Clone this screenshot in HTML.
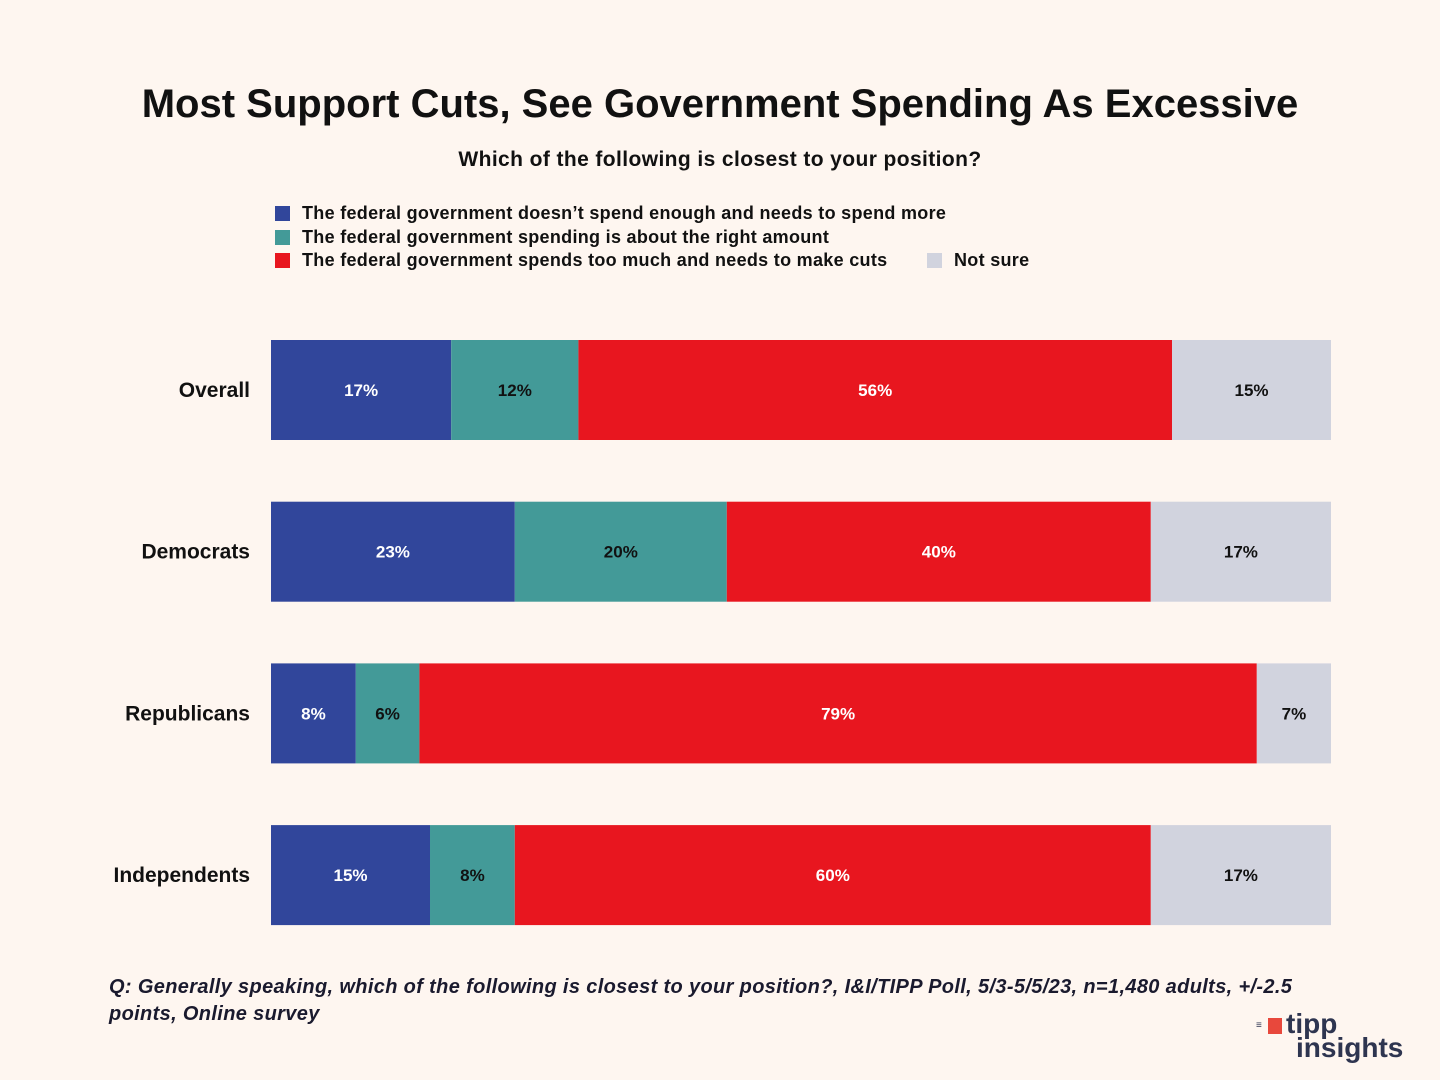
<!DOCTYPE html>
<html><head><meta charset="utf-8"><style>
body{margin:0;width:1440px;height:1080px;background:#fef6f0;font-family:"Liberation Sans",sans-serif;position:relative;overflow:hidden}
.t{position:absolute;white-space:nowrap}
</style></head><body>
<div class="t" style="left:0;width:1440px;text-align:center;top:82px;font-size:40px;font-weight:bold;color:#111">Most Support Cuts, See Government Spending As Excessive</div>
<div class="t" style="left:0;width:1440px;text-align:center;top:148px;font-size:21px;font-weight:bold;color:#111;letter-spacing:0.4px">Which of the following is closest to your position?</div>
<div id="legend"></div>
<svg id="chart" width="1440" height="1080" style="position:absolute;left:0;top:0"></svg>
<div class="t" style="left:109px;top:974px;font-size:20px;font-style:italic;font-weight:bold;color:#1a1a2e;line-height:27px;letter-spacing:0.35px">Q: Generally speaking, which of the following is closest to your position?, I&amp;I/TIPP Poll, 5/3-5/5/23, n=1,480 adults, +/-2.5<br>points, Online survey</div>
<div style="position:absolute;left:1256px;top:1012px;width:150px;height:55px">
<div style="position:absolute;left:12px;top:6px;width:14px;height:16px;background:#e8483c"></div>
<div style="position:absolute;left:0;top:8px;font-size:10px;color:#2e3550">≡</div>
<div class="t" style="left:30px;top:-4px;font-size:28px;font-weight:bold;color:#2e3550">tipp</div>
<div class="t" style="left:40px;top:20px;font-size:28px;font-weight:bold;color:#2e3550">insights</div>
</div>
<script>
const categories=["Overall","Democrats","Republicans","Independents"];
const spendMore=[17,23,8,15];
const rightAmount=[12,20,6,8];
const tooMuch=[56,40,79,60];
const notSure=[15,17,7,17];
const seriesNames=["The federal government doesn’t spend enough and needs to spend more","The federal government spending is about the right amount","The federal government spends too much and needs to make cuts","Not sure"];
const colors=["#31469b","#439a98","#e8161f","#d1d3de"];
const textColors=["#fff","#111","#fff","#111"];
const series=[spendMore,rightAmount,tooMuch,notSure];
const X0=271,W=1060,BH=100;
function xs(v){return v/100*W;}
function yc(i){return 340+i*161.7;}
const svg=document.getElementById('chart');
const NS="http://www.w3.org/2000/svg";
categories.forEach((c,i)=>{
  const y=yc(i);
  const lab=document.createElementNS(NS,'text');
  
  
  lab.setAttribute('x',250);lab.setAttribute('y',y+BH/2+7);lab.setAttribute('text-anchor','end');
  lab.setAttribute('font-size','21');lab.setAttribute('font-weight','bold');lab.setAttribute('fill','#111');
  lab.textContent=c;svg.appendChild(lab);
  let acc=0;
  series.forEach((s,k)=>{
    const v=s[i];const x=X0+xs(acc);const w=xs(v);
    const r=document.createElementNS(NS,'rect');
    
    
    r.setAttribute('x',x);r.setAttribute('y',y);r.setAttribute('width',w);r.setAttribute('height',BH);r.setAttribute('fill',colors[k]);
    svg.appendChild(r);
    const t=document.createElementNS(NS,'text');
    
    
    t.setAttribute('x',x+w/2);t.setAttribute('y',y+BH/2+6);t.setAttribute('text-anchor','middle');
    t.setAttribute('font-size','17');t.setAttribute('font-weight','bold');t.setAttribute('fill',textColors[k]);
    t.textContent=v+'%';svg.appendChild(t);
    acc+=v;
  });
});
const lg=document.getElementById('legend');
const lpos=[[275,203],[275,227],[275,250],[907,250]];
seriesNames.forEach((n,k)=>{
  const d=document.createElement('div');
  
  
  d.className='t';d.style.left=(k===3?lpos[k][0]+20:lpos[k][0])+'px';d.style.top=lpos[k][1]+'px';
  d.style.fontSize='18px';d.style.fontWeight='bold';d.style.color='#111';d.style.letterSpacing='0.3px';
  d.innerHTML='<span style="display:inline-block;width:15px;height:15px;background:'+colors[k]+';margin-right:12px;vertical-align:-2px"></span>'+n;
  lg.appendChild(d);
});
</script>
</body></html>
